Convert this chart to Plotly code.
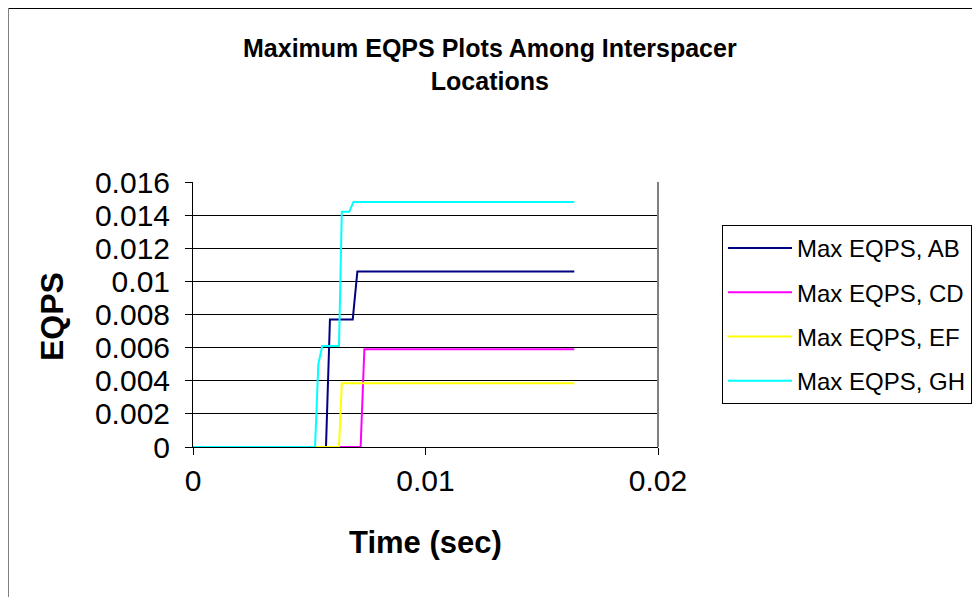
import plotly.graph_objects as go

# Time (sec) and EQPS values
t_ab = [0.0, 0.00572, 0.00589, 0.00687, 0.00707, 0.0164]
v_ab = [0.0, 0.0, 0.0077, 0.0077, 0.0106, 0.0106]

t_cd = [0.0, 0.00721, 0.00737, 0.0164]
v_cd = [0.0, 0.0, 0.0059, 0.0059]

t_ef = [0.0, 0.00628, 0.00640, 0.0164]
v_ef = [0.0, 0.0, 0.00385, 0.00385]

t_gh = [0.0, 0.00525, 0.00539, 0.00556, 0.00628, 0.00640, 0.00672, 0.00690, 0.0164]
v_gh = [0.0, 0.0, 0.0050, 0.0061, 0.0061, 0.0142, 0.0142, 0.0148, 0.0148]

names = ["Max EQPS, AB", "Max EQPS, CD", "Max EQPS, EF", "Max EQPS, GH"]
colors = ["#000080", "#FF00FF", "#FFFF00", "#00FFFF"]

y_ticks = [0, 0.002, 0.004, 0.006, 0.008, 0.01, 0.012, 0.014, 0.016]
y_tick_text = ["0", "0.002", "0.004", "0.006", "0.008", "0.01", "0.012", "0.014", "0.016"]
x_ticks = [0, 0.01, 0.02]
x_tick_text = ["0", "0.01", "0.02"]

FONT = "Liberation Sans, Arial, sans-serif"

fig = go.Figure()
for i, (t, v) in enumerate([(t_ab, v_ab), (t_cd, v_cd), (t_ef, v_ef), (t_gh, v_gh)]):
    fig.add_trace(go.Scatter(x=t, y=v, mode="lines", name=names[i],
                             line=dict(color=colors[i], width=2),
                             legendgroup=names[i]))

OFF = 8  # page body margin
W, H = 980 - OFF, 597 - OFF
L, R, T, B = 193 - OFF, 658 - OFF, 182 - OFF, 447 - OFF

def px(x):
    return (x - OFF - L) / (R - L)

def py(y):
    return (B - (y - OFF)) / (B - T)

fig.update_layout(
    width=W, height=H,
    margin=dict(l=L, r=W - R, t=T, b=H - B, autoexpand=False),
    paper_bgcolor="white", plot_bgcolor="white",
    font=dict(family=FONT, color="black"),
    showlegend=True,
    legend=dict(x=px(722), y=py(225), xanchor="left", yanchor="top",
                bordercolor="black", borderwidth=1, bgcolor="white",
                font=dict(size=24, family=FONT), tracegroupgap=10,
                itemwidth=64),
    xaxis=dict(range=[0, 0.02], tickvals=x_ticks, ticktext=x_tick_text,
               showgrid=False, zeroline=False, showline=True, linecolor="black",
               linewidth=1, ticks="outside", ticklen=7, tickcolor="black",
               tickfont=dict(size=30, family=FONT), mirror=False,
               ticklabelstandoff=0),
    yaxis=dict(range=[0, 0.016], tickvals=y_ticks, ticktext=y_tick_text,
               showgrid=True, gridcolor="black", gridwidth=1, zeroline=False,
               showline=True, linecolor="black", linewidth=1,
               ticks="outside", ticklen=7, tickcolor="black",
               tickfont=dict(size=30, family=FONT), ticklabelstandoff=9),
    shapes=[
        dict(type="line", xref="paper", yref="paper", x0=1, x1=1, y0=0, y1=1,
             line=dict(color="#808080", width=2)),
        dict(type="line", xref="paper", yref="paper", x0=px(8.5), x1=px(990),
             y0=py(8.5), y1=py(8.5), line=dict(color="black", width=1)),
        dict(type="line", xref="paper", yref="paper", x0=px(8.5), x1=px(8.5),
             y0=py(8.5), y1=py(610), line=dict(color="#808080", width=1)),
    ],
    annotations=[
        dict(text="<b>Maximum EQPS Plots Among Interspacer<br>Locations</b>",
             xref="paper", yref="paper", x=px(490), y=py(64), showarrow=False,
             xanchor="center", yanchor="middle",
             font=dict(size=25, family=FONT)),
        dict(text="<b>EQPS</b>", xref="paper", yref="paper", x=px(52), y=py(317),
             showarrow=False, textangle=-90, xanchor="center", yanchor="middle",
             font=dict(size=32, family=FONT)),
        dict(text="<b>Time (sec)</b>", xref="paper", yref="paper", x=px(425),
             y=py(542), showarrow=False, xanchor="center", yanchor="middle",
             font=dict(size=31, family=FONT)),
    ],
)

fig.write_html("out.html")
